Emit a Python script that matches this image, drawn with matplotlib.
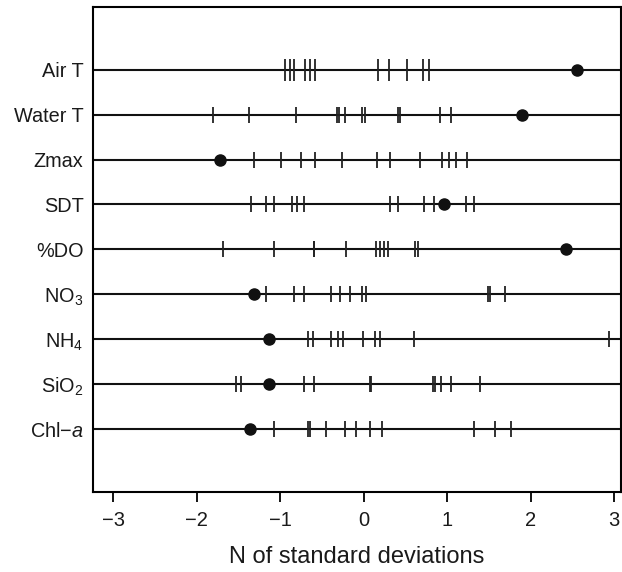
import numpy as np
import matplotlib.pyplot as plt

plt.rcParams['font.family'] = ['Liberation Sans', 'DejaVu Sans']
plt.rcParams['mathtext.fontset'] = 'custom'
plt.rcParams['mathtext.rm'] = 'Liberation Sans'
plt.rcParams['mathtext.it'] = 'Liberation Sans:italic'

# variables, top to bottom
labels = ['Air T', 'Water T', 'Zmax', 'SDT', '%DO',
          'NO$_3$', 'NH$_4$', 'SiO$_2$', 'Chl\u2212$a$']

# other sites (ticks), in standard deviations
air_t = [-0.94, -0.88, -0.84, -0.70, -0.64, -0.58, 0.17, 0.30, 0.52, 0.71, 0.78]
water_t = [-1.81, -1.38, -0.81, -0.32, -0.30, -0.22, -0.02, 0.02, 0.41, 0.43, 0.92, 1.04]
zmax = [-1.31, -0.99, -0.75, -0.58, -0.26, 0.16, 0.31, 0.67, 0.94, 1.02, 1.10, 1.24]
sdt = [-1.35, -1.17, -1.07, -0.86, -0.80, -0.72, 0.32, 0.41, 0.72, 0.84, 1.22, 1.32]
do = [-1.68, -1.07, -0.60, -0.59, -0.21, 0.15, 0.19, 0.24, 0.29, 0.62, 0.65]
no3 = [-1.17, -0.84, -0.72, -0.39, -0.28, -0.16, -0.02, 0.03, 1.49, 1.51, 1.69]
nh4 = [-0.67, -0.61, -0.39, -0.31, -0.25, -0.01, 0.14, 0.19, 0.60, 2.94]
sio2 = [-1.53, -1.47, -0.71, -0.60, 0.07, 0.09, 0.83, 0.86, 0.93, 1.05, 1.39]
chla = [-1.08, -0.67, -0.64, -0.45, -0.22, -0.09, 0.07, 0.22, 1.32, 1.57, 1.77]
others = [air_t, water_t, zmax, sdt, do, no3, nh4, sio2, chla]

# highlighted site (dots)
site = [2.55, 1.90, -1.72, 0.96, 2.42, -1.31, -1.13, -1.13, -1.36]

fig = plt.figure(figsize=(6.22, 5.72), dpi=100)
ax = fig.add_axes([0.150, 0.140, 0.848, 0.848])

n = len(labels)
ypos = np.arange(n, 0, -1)
for i in range(n):
    y = ypos[i]
    ax.axhline(y, color='#111111', lw=1.5, zorder=1)
    ms = 16 if i == 0 else 12
    ax.plot(others[i], [y] * len(others[i]), ls='none', marker='|',
            ms=ms, mew=1.3, color='#222222', zorder=2)
    ax.plot(site[i], y, 'o', ms=8, color='#111111', zorder=3)

ax.set_xlim(-3.24, 3.08)
ax.set_ylim(-0.4, 10.4)
ax.set_xticks([-3, -2, -1, 0, 1, 2, 3])
ax.set_xticklabels(['\u22123', '\u22122', '\u22121', '0', '1', '2', '3'])
ax.set_yticks(ypos)
ax.set_yticklabels(labels, color='#1a1a1a')
ax.tick_params(axis='y', length=0, pad=7, labelsize=14.3)
ax.tick_params(axis='x', length=7, width=1.3, pad=7, labelsize=14.5,
               labelcolor='#1a1a1a')
for s in ax.spines.values():
    s.set_linewidth(1.5)
ax.set_xlabel('N of standard deviations', fontsize=17, labelpad=11,
              color='#1a1a1a')

fig.savefig('out.png', dpi=100)
